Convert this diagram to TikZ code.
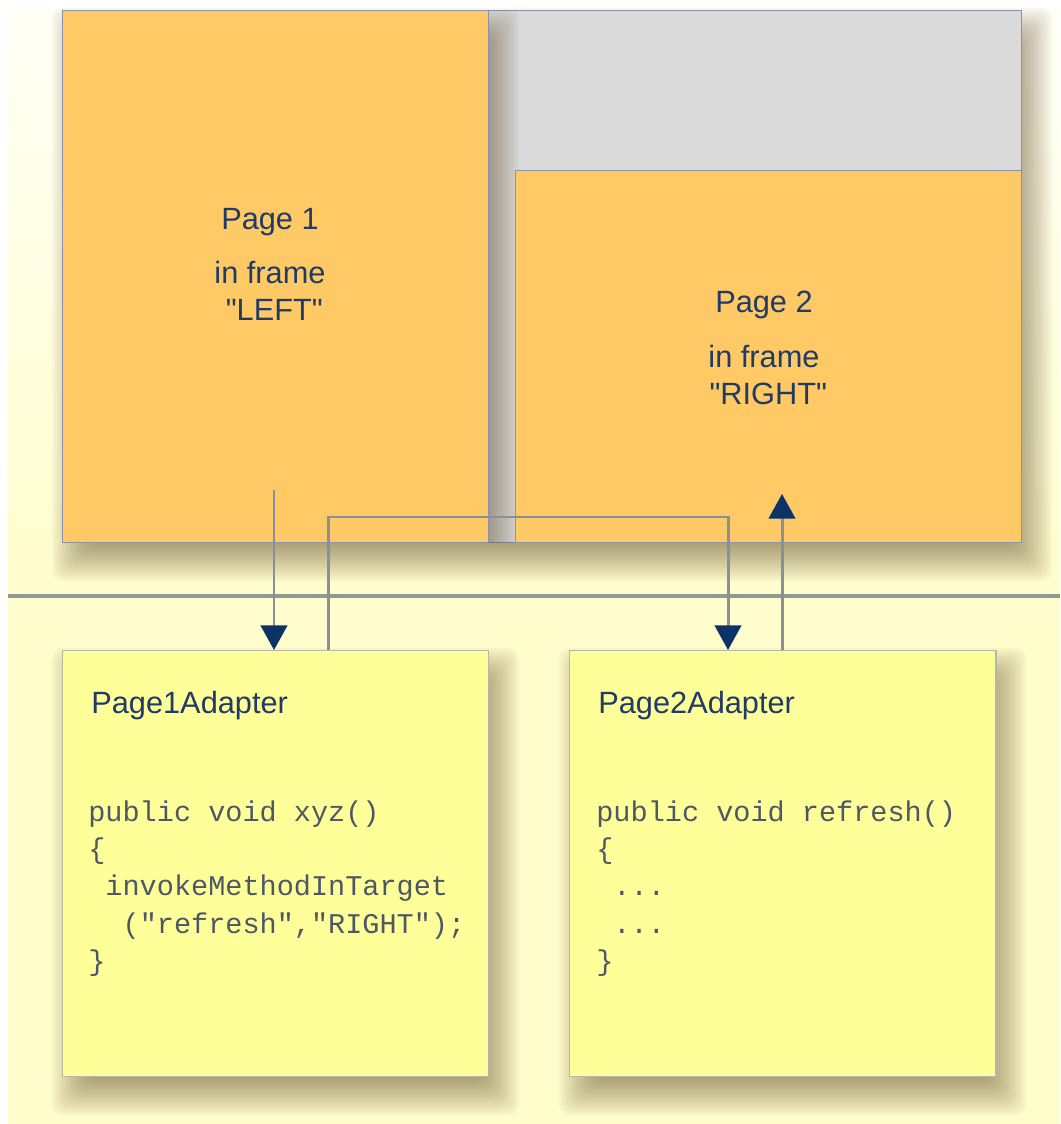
\documentclass[tikz,border=0pt]{standalone}
\usepackage{fontspec}
\setmainfont{Liberation Sans}
\setmonofont{Liberation Mono}
\usetikzlibrary{arrows.meta}
\definecolor{pageorange}{HTML}{FFC966}
\definecolor{framegray}{HTML}{DADADA}
\definecolor{adaptyellow}{HTML}{FFFF99}
\definecolor{bgcream}{HTML}{FFFDCC}
\definecolor{bgtop}{HTML}{FFFFF6}
\definecolor{navy}{HTML}{1F3B66}
\definecolor{tipnavy}{HTML}{0B3366}
\definecolor{codegray}{HTML}{4D5866}
\definecolor{edgeblue}{HTML}{8A93AA}
\definecolor{edgegray}{HTML}{B4B8A8}
\definecolor{linegray}{HTML}{87919A}
\definecolor{sepgray}{HTML}{8D9A96}
\definecolor{shadowbrown}{HTML}{4A2E0A}
\newcommand{\code}[1]{\texttt{#1}}
\newcommand{\blank}{\phantom{x}}
% soft shadow below and right of a box given by its corners (px)
\newcommand{\dropshadow}[4]{%
  \foreach \k in {0,...,15}{%
    \pgfmathsetmacro{\d}{-20+2.6*\k}
    \fill[shadowbrown, opacity=0.035, rounded corners=6pt]
      (#1+10+\d, #2+18+\d) rectangle (#3+10-\d, #4+18-\d);
  }}

\begin{document}
\begin{tikzpicture}[x=0.02cm, y=-0.02cm,
    frameset/.style={rectangle, fill=framegray, draw=edgeblue, line width=0.6pt,
      inner sep=0pt, outer sep=0pt},
    page/.style={rectangle, fill=pageorange, draw=edgeblue, line width=0.6pt,
      inner sep=0pt, outer sep=0pt},
    adapter/.style={rectangle, fill=adaptyellow, draw=edgegray, line width=0.6pt,
      inner sep=0pt, outer sep=0pt, minimum width=8.54cm, minimum height=8.54cm},
    pagetext/.style={font=\fontsize{17.5}{21}\selectfont, text=navy, align=center, inner sep=0pt},
    heading/.style={font=\fontsize{17.5}{21}\selectfont, text=navy, inner sep=0pt},
    codetext/.style={font=\fontsize{16.25}{21.3}\selectfont\ttfamily, text=codegray,
      align=left, inner sep=0pt},
    conn/.style={draw=linegray, line width=1.7pt},
    arrow/.style={conn, -{Triangle[width=15pt, length=14pt, color=tipnavy]}}]

  \useasboundingbox (0,0) rectangle (1060,1124);
  \fill[fill=white] (0,0) rectangle (1060,1124);
  \fill[top color=bgtop, bottom color=bgcream] (8,8) rectangle (1060,596);
  \fill[bgcream] (8,596) rectangle (1060,1124);

  \dropshadow{62}{10}{1022}{543}
  \node[frameset, minimum width=19.2cm, minimum height=10.66cm] (frames) at (542,276.5) {};
  \begin{scope}
    \clip (frames.south west) rectangle (frames.north east);
    \dropshadow{62}{10}{489}{543}
  \end{scope}
  \node[page, minimum width=8.54cm, minimum height=10.66cm] (page1) at (275.5,276.5) {};
  \node[page, minimum width=10.14cm, minimum height=7.46cm] (page2) at (768.5,356.5) {};

  \node[pagetext, anchor=north] (p1text) at (270,208)
    {Page 1\\[10pt]in frame\\\hspace*{0.28em}\textquotedbl LEFT\textquotedbl};
  \node[pagetext, anchor=north] (p2text) at (764,291)
    {Page 2\\[10pt]in frame\\\hspace*{0.28em}\textquotedbl RIGHT\textquotedbl};

  \draw[sepgray, line width=2.2pt] (8,596) -- (1060,596);

  \dropshadow{62}{650}{489}{1077}
  \dropshadow{569}{650}{996}{1077}
  \node[adapter] (adapt1) at (275.5,863.5) {};
  \node[adapter] (adapt2) at (782.5,863.5) {};

  \node[heading, anchor=base west] (head1) at (91,713) {Page1Adapter};
  \node[heading, anchor=base west] (head2) at (598,713) {Page2Adapter};

  \node[codetext, anchor=north west] (code1) at (88,800)
    {\code{public void xyz()}\\ \code{\{}\\ \code{\blank invokeMethodInTarget}\\
     \code{\blank\blank("refresh","RIGHT");}\\ \code{\}}};
  \node[codetext, anchor=north west] (code2) at (596,800)
    {\code{public void refresh()}\\ \code{\{}\\ \code{\blank...}\\
     \code{\blank...}\\ \code{\}}};

  \coordinate (p1out) at (274,490);
  \coordinate (c1) at (328,517);
  \coordinate (c2) at (728,517);
  \coordinate (p2in) at (782,494);

  \draw[arrow] (p1out) -- (p1out |- adapt1.north);
  \draw[arrow] (c1 |- adapt1.north) -- (c1) -- (c2) -- (c2 |- adapt2.north);
  \draw[arrow] (p2in |- adapt2.north) -- (p2in);
\end{tikzpicture}
\end{document}
